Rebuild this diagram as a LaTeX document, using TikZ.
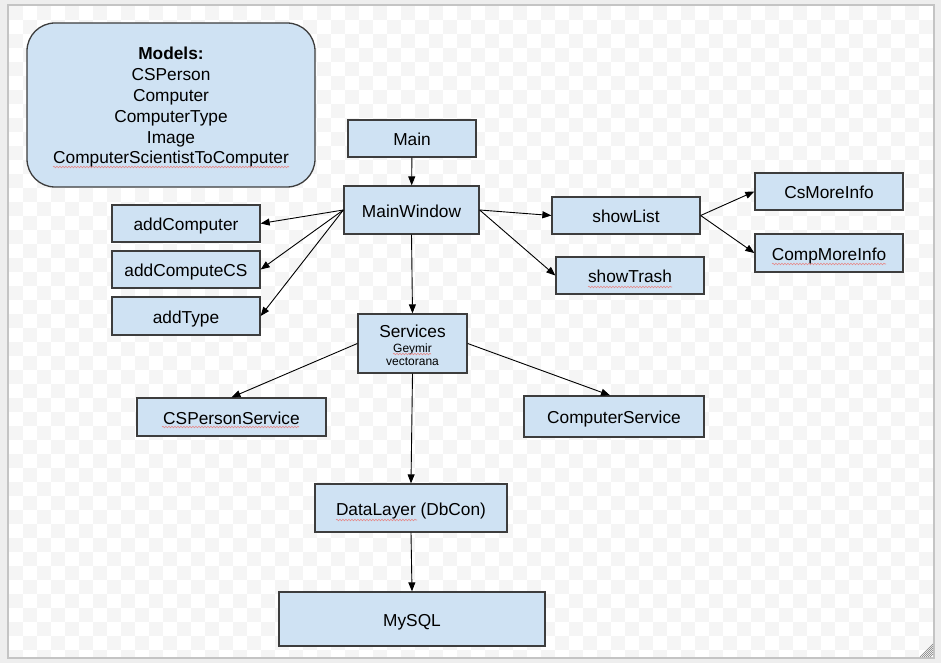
\documentclass[tikz,border=0pt]{standalone}
\usepackage{fontspec}
\setmainfont{Liberation Sans}
\usetikzlibrary{arrows.meta,decorations.pathmorphing}

\definecolor{boxfill}{HTML}{CFE2F3}
\definecolor{boxline}{HTML}{3D3D3D}
\definecolor{outside}{HTML}{EEEEEE}
\definecolor{checker}{HTML}{F5F5F5}
\definecolor{frame}{HTML}{C4C4C4}
\definecolor{spellred}{HTML}{E58A8A}

\tikzset{
  box/.style={draw=boxline, fill=boxfill, line width=1.3pt, inner sep=0pt,
              font=\fontsize{17.3}{20.8}\selectfont, text height=14pt, text depth=0pt},
  panel/.style={draw=boxline, fill=boxfill, line width=1.3pt, rounded corners=28pt},
  multi/.style={inner sep=0pt, align=center, font=\fontsize{17.3}{20.8}\selectfont},
  small/.style={inner sep=0pt, font=\fontsize{12}{14}\selectfont, text height=8.4pt, text depth=2.5pt},
  label/.style={inner sep=0pt, font=\fontsize{17.3}{20.8}\selectfont},
  arr/.style={draw=black, line width=0.9pt, -{Triangle[length=9pt,width=7pt]}},
  spell/.style={draw=spellred, line width=0.6pt, decorate,
                decoration={snake, amplitude=0.8pt, segment length=3pt}},
}

\begin{document}
\begin{tikzpicture}[x=1pt,y=-1pt]
  \useasboundingbox (0,0) rectangle (941,663);

  % window background and canvas with checkerboard
  \fill[outside] (0,0) rectangle (941,663);
  \fill[white] (8,5) rectangle (934,658);
  \begin{scope}
    \clip (8,5) rectangle (934,658);
    \foreach \i in {0,...,66} {
      \foreach \j in {0,...,46} {
        \pgfmathtruncatemacro{\parity}{mod(\i+\j,2)}
        \ifnum\parity=0
          \fill[checker] (9+14*\i,6+14*\j) rectangle ++(14,14);
        \fi
      }
    }
  \end{scope}
  \draw[frame, line width=1.3pt] (8,5) rectangle (934,658);

  % resize grip
  \foreach \k in {3,5,7,9,11,13}
    \draw[gray, line width=0.6pt] (933-\k,657) -- (933,657-\k);

  % models panel
  \node[panel, minimum width=288pt, minimum height=164pt] (models) at (171,105) {};
  \node[multi] (modeltext) at (171,107.5)
    {\textbf{Models:}\\CSPerson\\Computer\\ComputerType\\Image\\ComputerScientistToComputer};

  % boxes
  \node[box, minimum width=128pt, minimum height=37pt] (main)      at (412,138.5) {Main};
  \node[box, minimum width=135pt, minimum height=48pt] (mainwin)   at (411.5,210) {MainWindow};
  \node[box, minimum width=148pt, minimum height=37pt] (addcomp)   at (186,223.5) {addComputer};
  \node[box, minimum width=148pt, minimum height=37pt] (addcs)     at (186,269.5) {addComputeCS};
  \node[box, minimum width=148pt, minimum height=38pt] (addtype)   at (186,316)   {addType};
  \node[box, minimum width=148pt, minimum height=37pt] (showlist)  at (626,215.5) {showList};
  \node[box, minimum width=148pt, minimum height=37pt] (showtrash) at (630,275.5) {showTrash};
  \node[box, minimum width=148pt, minimum height=37pt] (csmore)    at (829,191.5) {CsMoreInfo};
  \node[box, minimum width=148pt, minimum height=38pt] (compmore)  at (829,253)   {CompMoreInfo};
  \node[box, minimum width=109pt, minimum height=59pt] (services)  at (412.5,343.5) {};
  \node[label] (servname) at (412.5,331) {Services};
  \node[small] (geymir)   at (412.5,349.2) {Geymir};
  \node[small] (vecto)    at (412.5,362.5) {vectorana};
  \node[box, minimum width=189pt, minimum height=38pt] (cspserv)   at (231.5,417) {CSPersonService};
  \node[box, minimum width=180pt, minimum height=41pt] (compserv)  at (614,416.5) {ComputerService};
  \node[box, minimum width=192pt, minimum height=48pt] (datalayer) at (411,508)   {DataLayer (DbCon)};
  \node[box, minimum width=266pt, minimum height=54pt] (mysql)     at (412,619)   {MySQL};

  % spell-check underlines
  \draw[spell] (53,167) -- (289,167);
  \draw[spell] (588,287) -- (672,287);
  \draw[spell] (772,264) -- (886,264);
  \draw[spell] (162,427) -- (299,427);
  \draw[spell] (393,354) -- (431,354);
  \draw[spell] (336,520) -- (417,520);

  % connectors
  \draw[arr] (main) -- (mainwin);
  \draw[arr] (mainwin.west) -- (addcomp.east);
  \draw[arr] (mainwin.west) -- (addcs.east);
  \draw[arr] (mainwin.west) -- (addtype.east);
  \draw[arr] (mainwin.east) -- (showlist.west);
  \draw[arr] (mainwin.east) -- (showtrash.west);
  \draw[arr] (showlist.east) -- (csmore.west);
  \draw[arr] (showlist.east) -- (compmore.west);
  \draw[arr] (mainwin.south) -- (services.north);
  \draw[arr] (services.west) -- (cspserv.north);
  \draw[arr] (services.east) -- ([xshift=-4pt]compserv.north);
  \draw[arr] (services.south) -- (datalayer.north);
  \draw[arr] (datalayer.south) -- (mysql.north);
\end{tikzpicture}
\end{document}
